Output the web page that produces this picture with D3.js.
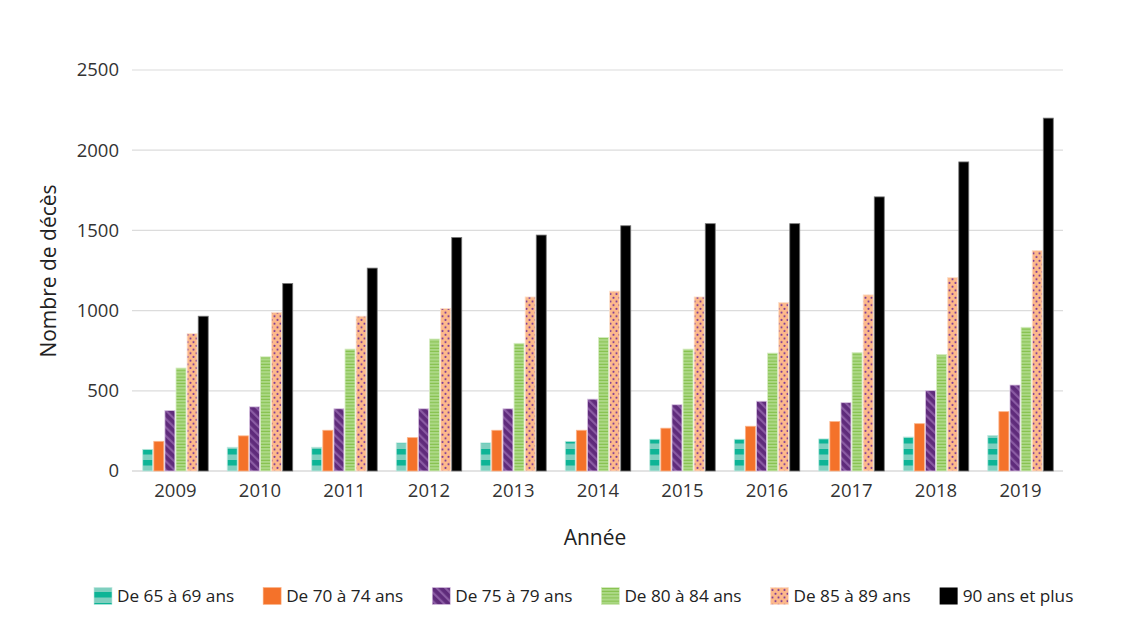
<!DOCTYPE html>
<html><head><meta charset="utf-8">
<script src="https://cdn.jsdelivr.net/npm/d3@7"></script>
<style>body{margin:0;background:#fff;} text{font-family:"Open Sans", Lato, sans-serif;}</style>
</head><body>
<svg id="c" width="1125" height="643"></svg>
<script>
const years = ["2009","2010","2011","2012","2013","2014","2015","2016","2017","2018","2019"];
const seriesNames = ["De 65 à 69 ans","De 70 à 74 ans","De 75 à 79 ans","De 80 à 84 ans","De 85 à 89 ans","90 ans et plus"];
const s65 = [135,148,148,175,175,185,198,198,200,212,222];
const s70 = [185,219,254,208,254,254,267,279,308,295,370];
const s75 = [377,400,388,388,388,448,413,435,426,501,536];
const s80 = [642,712,760,823,796,833,760,735,738,726,896];
const s85 = [856,988,965,1013,1085,1121,1085,1050,1098,1206,1374];
const s90 = [965,1169,1265,1456,1471,1529,1542,1542,1709,1927,2200];
const yTicks = [0,500,1000,1500,2000,2500];
const seriesValues = [s65,s70,s75,s80,s85,s90];

const svg = d3.select("#c");
const defs = svg.append("defs");
const baseY = 471;

// patterns
const pTeal = defs.append("pattern").attr("id","pTeal").attr("patternUnits","userSpaceOnUse")
  .attr("width",11).attr("height",11).attr("patternTransform",`translate(0,${baseY})`);
pTeal.append("rect").attr("width",11).attr("height",11).attr("fill","#7fcfbf");
pTeal.append("rect").attr("y",0).attr("width",11).attr("height",5.5).attr("fill","#0db496");

const pPur = defs.append("pattern").attr("id","pPur").attr("patternUnits","userSpaceOnUse")
  .attr("width",6).attr("height",6).attr("patternTransform","rotate(-45)");
pPur.append("rect").attr("width",6).attr("height",6).attr("fill","#5f2b7b");
pPur.append("rect").attr("x",0).attr("width",2.2).attr("height",6).attr("fill","#8a5ba3");

const pGreen = defs.append("pattern").attr("id","pGreen").attr("patternUnits","userSpaceOnUse")
  .attr("width",10).attr("height",3.2);
pGreen.append("rect").attr("width",10).attr("height",3.2).attr("fill","#acd886");
pGreen.append("rect").attr("y",2.2).attr("width",10).attr("height",1).attr("fill","#84c04b");

const pPeach = defs.append("pattern").attr("id","pPeach").attr("patternUnits","userSpaceOnUse")
  .attr("width",6).attr("height",7.4);
pPeach.append("rect").attr("width",6).attr("height",7.4).attr("fill","#fdb98b");
pPeach.append("circle").attr("cx",1.5).attr("cy",1.8).attr("r",1.05).attr("fill","#7e3c95");
pPeach.append("circle").attr("cx",4.5).attr("cy",5.5).attr("r",1.05).attr("fill","#7e3c95");

const fills = ["url(#pTeal)","#f4722a","url(#pPur)","url(#pGreen)","url(#pPeach)","#000000"];
const strokes = ["#bfe9df","#fbb48a","#d9c4e2","#d6ecc2","#fde0cb","#777777"];

const x = d3.scaleBand().domain(years).range([133,1063]).paddingInner(0.225).paddingOuter(0.115);
const x1 = d3.scaleBand().domain(seriesNames).range([0, x.bandwidth()]).paddingInner(0.1);
const y = d3.scaleLinear().domain([0,2500]).range([baseY,70]);

// gridlines
svg.append("g").selectAll("line").data(yTicks).join("line")
  .attr("x1",132).attr("x2",1063).attr("y1",d=>y(d)).attr("y2",d=>y(d))
  .attr("stroke",d=>d===0?"#c8c8c8":"#dcdcdc").attr("stroke-width",1.2);

// y tick labels
svg.append("g").selectAll("text").data(yTicks).join("text")
  .attr("x",119).attr("y",d=>y(d)).attr("dy","0.35em").attr("text-anchor","end")
  .attr("font-size",18.5).attr("fill","#333").text(d=>d);

// bars
const groups = svg.append("g").selectAll("g").data(seriesNames).join("g");
groups.each(function(name, si){
  d3.select(this).selectAll("rect").data(years.map((yr,i)=>({yr, v: seriesValues[si][i]}))).join("rect")
    .attr("x", d=>x(d.yr)+x1(name))
    .attr("y", d=>y(d.v))
    .attr("width", x1.bandwidth())
    .attr("height", d=>baseY - y(d.v))
    .attr("fill", fills[si])
    .attr("stroke", strokes[si]).attr("stroke-width",0.8);
});

// x labels
svg.append("g").selectAll("text").data(years).join("text")
  .attr("x",d=>x(d)+x.bandwidth()/2).attr("y",497).attr("text-anchor","middle")
  .attr("font-size",18.5).attr("fill","#333").text(d=>d);

// axis titles
svg.append("text").attr("x",595).attr("y",545).attr("text-anchor","middle")
  .attr("font-size",21).attr("fill","#222").text("Année");
svg.append("text").attr("transform","translate(56,271) rotate(-90)").attr("text-anchor","middle")
  .attr("font-size",21).attr("fill","#222").text("Nombre de décès");

// legend
const leg = svg.append("g");
let lx = 94;
seriesNames.forEach((name, si) => {
  leg.append("rect").attr("x",lx).attr("y",587.5).attr("width",18).attr("height",17)
    .attr("fill",fills[si]).attr("stroke",si===5?"none":strokes[si]).attr("stroke-width",0.6);
  const t = leg.append("text").attr("x",lx+23).attr("y",596).attr("dy","0.35em")
    .attr("font-size",17.2).attr("fill","#222").text(name);
  const w = t.node().getComputedTextLength();
  lx = lx + 23 + w + 29;
});
</script>
</body></html>
